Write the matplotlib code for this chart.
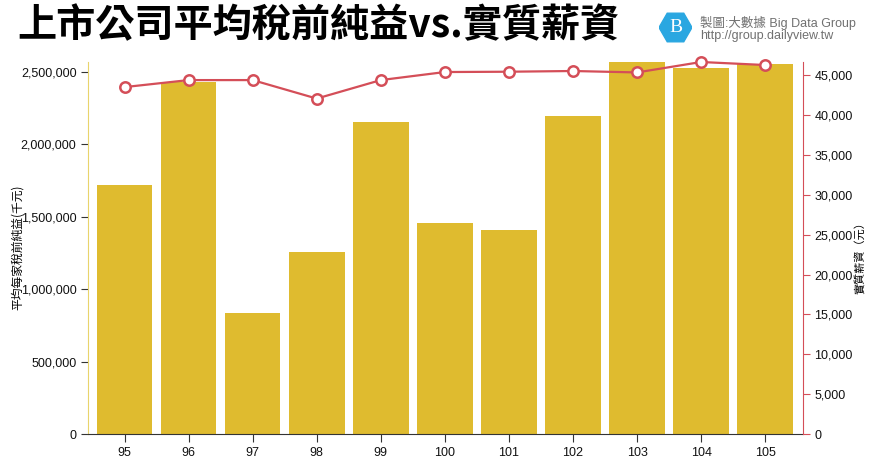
import matplotlib
matplotlib.use("Agg")
import matplotlib.pyplot as plt
from matplotlib.patches import RegularPolygon
from matplotlib.ticker import FuncFormatter
import numpy as np

plt.rcParams['font.family'] = ['Liberation Sans', 'Noto Sans CJK TC', 'DejaVu Sans']

# 民國年
years = ['95', '96', '97', '98', '99', '100', '101', '102', '103', '104', '105']
# 平均每家稅前純益(千元)
profit = [1715000, 2426000, 836000, 1257000, 2153000, 1457000, 1409000,
          2194000, 2567000, 2528000, 2550000]
# 實質薪資(元)
wage = [43540, 44420, 44420, 42100, 44420, 45430, 45470, 45560, 45380, 46690, 46310]

BAR_COLOR = '#DFBB2F'
LINE_COLOR = '#D44E58'

fig = plt.figure(figsize=(8.7, 4.62), dpi=100)
ax = fig.add_axes([0.1015, 0.0606, 0.8211, 0.8052])
ax2 = ax.twinx()

x = np.arange(len(years))
ax.bar(x, profit, width=0.868, color=BAR_COLOR, zorder=2)
ax.set_xlim(-0.565, 10.585)
ax.set_ylim(0, max(profit))
ax.set_yticks(np.arange(0, 2500001, 500000))
ax.yaxis.set_major_formatter(FuncFormatter(lambda v, p: f"{int(v):,}"))
ax.set_xticks(x)
ax.set_xticklabels(years)

ax2.plot(x, wage, color=LINE_COLOR, lw=1.6, marker='o', markersize=7.5,
         markerfacecolor='white', markeredgecolor=LINE_COLOR, markeredgewidth=1.8,
         zorder=3, clip_on=False)
ax2.set_ylim(0, max(wage))
ax2.set_yticks(np.arange(0, 45001, 5000))
ax2.yaxis.set_major_formatter(FuncFormatter(lambda v, p: f"{int(v):,}"))

for a in (ax, ax2):
    a.spines['top'].set_visible(False)
    a.set_facecolor('none')
ax2.spines['left'].set_visible(False)
ax2.spines['bottom'].set_visible(False)
ax.spines['right'].set_visible(False)
ax.spines['left'].set_color('#E9D46C')
ax.spines['bottom'].set_color('#333333')
ax2.spines['right'].set_color(LINE_COLOR)

ax.tick_params(axis='y', length=5, color='#333333', labelsize=9, labelcolor='#111111')
ax.tick_params(axis='x', length=6, color='#333333', labelsize=9, labelcolor='#111111')
ax2.tick_params(axis='y', length=5, color=LINE_COLOR, labelsize=9, labelcolor='#111111')

ax.set_ylabel('平均每家稅前純益(千元)', fontsize=8.5, family=['Noto Sans CJK TC'])
ax.yaxis.set_label_coords(-0.0905, 0.503)
ax2.set_ylabel('實質薪資（元）', fontsize=8, family=['Noto Sans CJK TC'], rotation=90)
ax2.yaxis.set_label_coords(1.073, 0.48)

# 標題
fig.text(17 / 870, 1 - 26 / 462, '上市公司平均稅前純益vs.實質薪資',
         fontsize=28.2, fontweight='bold', family=['Noto Sans CJK TC'],
         ha='left', va='center', color='black')

# logo
lax = fig.add_axes([659 / 870, 1 - 44 / 462, 33 / 870, 33 / 462])
lax.set_xlim(-1, 1)
lax.set_ylim(-1, 1)
lax.set_aspect('equal')
lax.axis('off')
lax.add_patch(RegularPolygon((0, 0), 6, radius=1.0, orientation=np.pi / 6,
                             color='#2AA7E1'))
lax.text(0, 0, 'B', color='white', fontsize=14, ha='center', va='center',
         family=['Liberation Serif'])

fig.text(700 / 870, 1 - 22.5 / 462, '製圖:大數據 Big Data Group', fontsize=9,
         color='#707070', ha='left', va='center',
         family=['Liberation Sans', 'Noto Sans CJK TC'])
fig.text(700 / 870, 1 - 36 / 462, 'http://group.dailyview.tw', fontsize=9,
         color='#707070', ha='left', va='center')

fig.savefig('out.png', dpi=100)
